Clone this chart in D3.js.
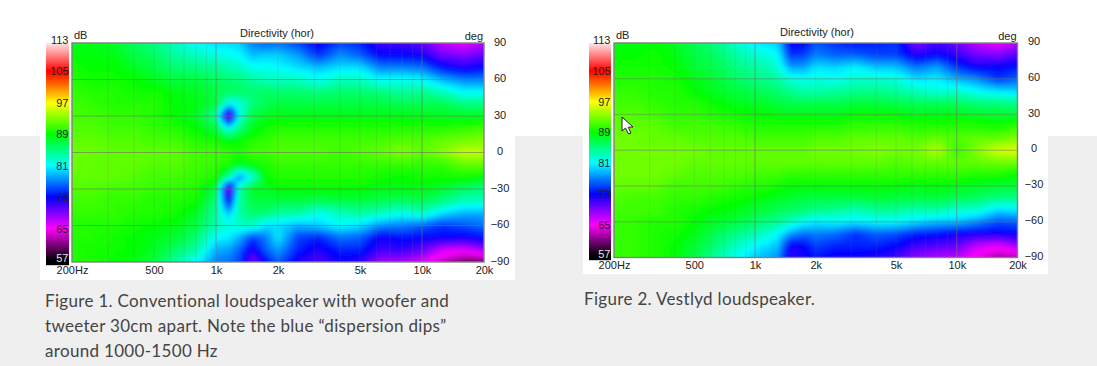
<!DOCTYPE html>
<html>
<head>
<meta charset="utf-8">
<script src="https://cdnjs.cloudflare.com/ajax/libs/d3/7.8.5/d3.min.js"></script>
<style>
html, body { margin: 0; padding: 0; background: #fff; overflow: hidden; }
svg { display: block; }
.tick text, .lbl { font-family: "Liberation Sans", Arial, sans-serif; font-size: 11px; fill: #222; }
.domain { display: none; }
.caption { font-family: "Lato", sans-serif; font-size: 17px; letter-spacing: 0.32px; fill: #444; }
</style>
</head>
<body>
<script>
// dB level -> colour stops of the measurement software's palette
const dbStops = [57, 65, 73, 81, 89, 97, 105, 113];
const dbColors = ["#000000", "#ff00ff", "#0000ff", "#00ffff", "#00ff00", "#ffff00", "#ff0000", "#ffffff"];
const dbTicks = [113, 105, 97, 89, 81, 73, 65, 57];

const angleTicks = [90, 60, 30, 0, -30, -60, -90];
const freqTicks = [200, 500, 1000, 2000, 5000, 10000, 20000];
const freqTickLabels = ["200Hz", "500", "1k", "2k", "5k", "10k", "20k"];
const gridMinor = [300, 400, 500, 600, 700, 800, 900, 2000, 3000, 4000, 5000, 6000, 7000, 8000, 9000];
const gridMajor = [1000, 10000];

const freqs = [200, 250, 315, 400, 500, 630, 800, 1000, 1150, 1300, 1500, 1750, 2000, 2500, 3150, 4000, 5000, 6300, 8000, 10000, 12500, 16000, 20000];
const angles = [90, 80, 70, 60, 50, 40, 30, 20, 10, 0, -10, -20, -30, -40, -50, -60, -70, -80, -90];

const conventional = [
  [88, 88.5, 88, 86, 85, 83, 81, 80, 80, 79.5, 77, 76, 76.5, 75, 72.5, 75, 74, 71, 71, 70, 67, 65.5, 67.5],
  [89, 88.5, 88.5, 87, 86, 84, 83, 82, 81.5, 81, 79, 79.5, 79.5, 78, 74.5, 77.5, 76, 73, 73, 72.5, 69.5, 69, 70],
  [89.5, 89, 89, 88, 87, 85.5, 85, 84.5, 83.5, 83, 81.5, 81.5, 81, 80, 79, 80, 80, 77, 77, 76.5, 73.5, 72, 73],
  [90, 89.5, 89.5, 89, 88, 87, 87, 86, 85.5, 85, 84, 83, 83, 83, 81.5, 83, 83, 81, 81.5, 81, 78.5, 77, 77],
  [90.5, 90, 90, 89.5, 89.5, 88.5, 88, 87, 86, 86, 85.5, 86, 85.5, 85.5, 85, 85.5, 85.5, 85, 84, 84.5, 83, 81, 81],
  [91, 90.5, 90, 90, 90, 89, 88.5, 87, 81, 82, 85, 86.5, 87, 87, 87, 87, 87, 87, 86.5, 86.5, 86.5, 85, 85],
  [91, 91, 90.5, 90.5, 90, 89, 88, 84.5, 68, 82, 87, 88, 88.5, 88.5, 88.5, 88.5, 88.5, 88.5, 88.5, 88.5, 88, 88, 88],
  [91.5, 91.5, 91, 91, 90.5, 90, 89, 87, 81, 85, 88, 89.5, 90, 90, 90, 90, 90, 90, 90, 90, 90, 90.5, 91],
  [92, 92, 91.5, 91.5, 91, 91, 90, 89.5, 88.5, 89, 90, 90.5, 91, 91, 91, 91, 91, 91, 91.5, 91.5, 92, 92.5, 93],
  [92.3, 92.3, 92, 92, 92, 92, 91, 91, 90.5, 90, 91, 91, 91.5, 91.5, 91.5, 91, 91.5, 92, 93, 92, 93, 95, 95],
  [92.3, 92, 92, 92, 91.5, 91.5, 91, 90.5, 90, 88, 89, 90, 90.5, 90.5, 90.5, 90.5, 90.5, 90.5, 90.5, 90.5, 90.5, 92, 92],
  [92, 92, 92, 91.5, 91, 91, 90.5, 90, 84, 77, 82, 89, 90, 90, 90, 90, 90, 89.5, 89, 89.5, 89.5, 89.5, 89],
  [91.5, 91.5, 91, 91, 90.5, 90.5, 90, 87, 68, 84, 88, 88, 89, 89, 89, 89, 89, 88.5, 88.5, 88.5, 87.5, 86, 85],
  [91, 91, 90.5, 90.5, 90, 90, 89.5, 85, 73, 84, 87, 87, 87, 87, 86.5, 87, 87, 86.5, 86, 86.5, 85, 83, 83],
  [90.5, 90.5, 90.5, 90, 90, 89.5, 88, 84, 79, 84, 85.5, 85.5, 84, 84, 81.5, 83, 84, 83, 81.5, 83, 80, 78.5, 78.5],
  [90, 90, 90, 89.5, 89, 88.5, 87, 83.5, 82, 82.5, 83, 80, 80, 78.5, 79.5, 81, 80, 77.5, 77, 76, 74.5, 75.5, 76.5],
  [90, 90, 89.5, 89, 88.5, 87.5, 85.5, 81, 80.5, 78.5, 75, 77, 80.5, 75, 74, 76.5, 76, 72.5, 73.5, 73, 73, 72.5, 73.5],
  [90, 89.5, 89.5, 89, 88, 86, 84, 78.5, 78, 76, 72, 76, 78, 74, 72, 74, 74, 71, 71.5, 70, 66.5, 66, 68],
  [90, 90, 89, 88.5, 87, 84, 81, 77, 76.5, 75, 69, 73, 76, 72, 70.5, 72.5, 71.5, 68, 67.5, 66, 63, 60, 60]
];

const vestlyd = [
  [88.5, 88.5, 89, 88, 86.5, 85, 82.5, 80.5, 80, 79.5, 72.5, 73, 75.5, 74.5, 73.5, 74, 74.5, 69, 71, 69.5, 67, 65.5, 67],
  [89, 89, 89.5, 88.5, 87, 86, 84, 82.5, 82, 81, 74.5, 75, 77, 76, 76, 75, 75, 72, 73, 71.5, 69.5, 69, 70.5],
  [89.5, 89.5, 89.5, 89, 87.5, 86.5, 85, 84, 83.5, 82, 78, 78, 80, 79.5, 80.5, 79, 79, 76.5, 78, 74.5, 72.5, 73, 73.5],
  [90, 90, 90, 89.5, 88.5, 87.5, 86, 85, 84.5, 84, 82, 81.5, 82, 81.5, 82.5, 82.5, 82, 80, 80.5, 78.5, 77.5, 74.5, 76],
  [90.5, 90.5, 90, 90, 89, 88, 87, 86.5, 86, 85.5, 84.5, 83.5, 83.5, 84, 84.5, 84.5, 84, 83, 82, 82.5, 81, 80, 79.5],
  [91, 91, 90.5, 90, 90, 89, 88, 88, 87.5, 87, 86.5, 86.5, 86.5, 86.5, 87, 87, 86.5, 86, 86, 86, 85, 85, 84.5],
  [91.5, 91.5, 91, 90.5, 90.5, 90, 89.5, 89, 89, 88.5, 88.5, 88.5, 88.5, 88.5, 89, 89, 89, 88.5, 88.5, 88.5, 88, 87.5, 87.5],
  [92, 92, 92, 91, 91, 91, 90.5, 90, 90, 90, 90, 90, 90, 90, 90.5, 90.5, 90.5, 90, 90, 90, 90, 89.5, 90.5],
  [92.5, 92.5, 92, 92, 91.5, 91.5, 91.5, 91, 91, 91, 91, 91, 91.5, 91.5, 92, 92, 92, 91.5, 92, 91.5, 92, 92, 93],
  [92.5, 92.5, 92.5, 92.5, 92.5, 92, 92, 92, 92, 92, 92, 92, 92.5, 92.5, 92.5, 93, 92.5, 92.5, 94.5, 90.5, 93, 95.5, 96],
  [92.5, 92.5, 92.5, 92.5, 92, 92, 92, 92, 92, 92, 92, 92, 92, 92, 92, 92, 91.5, 92, 92, 92, 92, 92.5, 92.5],
  [92.5, 92.5, 92.5, 92, 91.5, 91.5, 91.5, 91, 91, 91, 90.5, 90.5, 90.5, 90.5, 90.5, 90.5, 90.5, 90.5, 90.5, 90.5, 90, 90, 89],
  [92, 92, 92, 91, 91, 91, 90.5, 90, 90, 89.5, 89, 89, 89, 89, 89, 89, 89, 88.5, 89, 88.5, 88, 87.5, 87.5],
  [91.5, 91, 91, 90.5, 90.5, 90, 89.5, 89, 88.5, 88, 87.5, 87, 87, 87, 87, 87.5, 87, 87, 87, 86.5, 86, 85, 85],
  [91, 91, 91, 90, 89.5, 89, 88.5, 87.5, 87, 86.5, 86, 85.5, 85, 84.5, 83.5, 84.5, 84.5, 83.5, 84, 82.5, 82.5, 80, 80.5],
  [90.5, 90.5, 90, 90, 89, 88, 87, 86, 85, 84.5, 83, 81.5, 80.5, 81, 80.5, 81, 81, 80, 79, 79, 77.5, 75.5, 76],
  [90.5, 90.5, 90, 89.5, 88.5, 86.5, 85, 83.5, 82.5, 81, 78, 76.5, 77, 76.5, 74.5, 76, 75.5, 74, 73.5, 72.5, 72.5, 72.5, 73],
  [90.5, 90.5, 90, 89, 87.5, 85.5, 83, 81, 80, 79, 72.5, 73, 75, 74, 74, 74, 73, 71, 70.5, 70, 67, 66, 68],
  [90.5, 90.5, 90, 89, 87, 84, 81.5, 79.5, 78.5, 77.5, 71.5, 72.5, 73.5, 72.5, 72.5, 72, 71, 68.5, 67.5, 67, 64.5, 62, 62.5]
];

const chartTitle = "Directivity (hor)";
const captionOne = ["Figure 1. Conventional loudspeaker with woofer and", "tweeter 30cm apart. Note the blue \u201cdispersion dips\u201d", "around 1000-1500 Hz"];
const captionTwo = ["Figure 2. Vestlyd loudspeaker."];

const width = 1097, height = 366;
const color = d3.scaleLinear().domain(dbStops).range(dbColors).clamp(true);

const svg = d3.select("body").append("svg").attr("width", width).attr("height", height);
const defs = svg.append("defs");
defs.append("filter").attr("id", "soft")
    .attr("filterUnits", "userSpaceOnUse").attr("x", 0).attr("y", 0).attr("width", width).attr("height", height)
    .append("feGaussianBlur").attr("stdDeviation", 2);

// page background
svg.append("rect").attr("width", width).attr("height", height).attr("fill", "#fff");
svg.append("rect").attr("y", 136).attr("width", width).attr("height", height - 136).attr("fill", "#efefef");

const anglesAsc = angles.slice().reverse();

// value at (freq, angle), bilinear between grid points
function valueAt(rows, f, a) {
    const i = Math.max(0, Math.min(freqs.length - 2, d3.bisectRight(freqs, f) - 1));
    const k = Math.max(0, Math.min(anglesAsc.length - 2, d3.bisectRight(anglesAsc, a) - 1));
    const hi = rows[rows.length - 1 - k], lo = rows[rows.length - 2 - k];
    const tx = Math.max(0, Math.min(1, (Math.log(f) - Math.log(freqs[i])) / (Math.log(freqs[i + 1]) - Math.log(freqs[i]))));
    const ty = Math.max(0, Math.min(1, (a - anglesAsc[k]) / (anglesAsc[k + 1] - anglesAsc[k])));
    return (hi[i] * (1 - tx) + hi[i + 1] * tx) * (1 - ty) + (lo[i] * (1 - tx) + lo[i + 1] * tx) * ty;
}

function drawFigure(cfg, rows) {
    const x = d3.scaleLog().domain([200, 20000]).range([cfg.left, cfg.right]);
    const y = d3.scaleLinear().domain([90, -90]).range([cfg.top, cfg.bottom]);
    const barY = d3.scaleLinear().domain([113, 57]).range([cfg.bar113, cfg.bar57]);

    // white panel
    svg.append("rect").attr("x", cfg.panel[0]).attr("y", 0)
        .attr("width", cfg.panel[1] - cfg.panel[0]).attr("height", cfg.panel[2]).attr("fill", "#fff");

    // heat map: paint through the scales into a canvas, padded so the blur has no edge fade
    const pad = 8;
    const w = Math.round(cfg.right - cfg.left) + pad * 2, h = Math.round(cfg.bottom - cfg.top) + pad * 2;
    const canvas = document.createElement("canvas");
    canvas.width = w; canvas.height = h;
    const ctx = canvas.getContext("2d");
    const img = ctx.createImageData(w, h);
    for (let py = 0; py < h; py++) {
        const a = Math.max(-90, Math.min(90, y.invert(cfg.top - pad + py + 0.5)));
        for (let px = 0; px < w; px++) {
            const f = Math.max(200, Math.min(20000, x.invert(cfg.left - pad + px + 0.5)));
            const c = d3.rgb(color(valueAt(rows, f, a)));
            const o = (py * w + px) * 4;
            img.data[o] = c.r; img.data[o + 1] = c.g; img.data[o + 2] = c.b; img.data[o + 3] = 255;
        }
    }
    ctx.putImageData(img, 0, 0);

    const clipId = "clip" + cfg.id;
    defs.append("clipPath").attr("id", clipId).append("rect")
        .attr("x", cfg.left).attr("y", cfg.top).attr("width", cfg.right - cfg.left).attr("height", cfg.bottom - cfg.top);
    svg.append("g").attr("clip-path", "url(#" + clipId + ")")
        .append("image").attr("href", canvas.toDataURL())
        .attr("x", cfg.left - pad).attr("y", cfg.top - pad).attr("width", w).attr("height", h)
        .attr("filter", "url(#soft)");

    // grid
    const grid = svg.append("g").attr("fill", "none");
    grid.selectAll(".minor").data(gridMinor).join("line")
        .attr("x1", d => x(d)).attr("x2", d => x(d)).attr("y1", cfg.top).attr("y2", cfg.bottom)
        .attr("stroke", "#707070").attr("stroke-opacity", cfg.minorOpacity);
    grid.selectAll(".major").data(gridMajor).join("line")
        .attr("x1", d => x(d)).attr("x2", d => x(d)).attr("y1", cfg.top).attr("y2", cfg.bottom)
        .attr("stroke", "#707070").attr("stroke-opacity", 0.6);
    grid.selectAll(".horiz").data(angleTicks.slice(1, -1)).join("line")
        .attr("x1", cfg.left).attr("x2", cfg.right).attr("y1", d => y(d)).attr("y2", d => y(d))
        .attr("stroke", "#707070").attr("stroke-opacity", cfg.horizOpacity).attr("stroke-width", cfg.horizWidth);
    svg.append("rect").attr("x", cfg.left).attr("y", cfg.top)
        .attr("width", cfg.right - cfg.left).attr("height", cfg.bottom - cfg.top)
        .attr("fill", "none").attr("stroke", "#808080").attr("stroke-width", 1.4);

    // colour bar
    const barRows = d3.range(cfg.top, cfg.barBottom);
    svg.append("g").selectAll("rect").data(barRows).join("rect")
        .attr("x", cfg.barX).attr("y", d => d).attr("width", cfg.barW).attr("height", 1.2)
        .attr("fill", d => color(barY.invert(d + 0.5)));
    svg.append("g").attr("transform", "translate(" + (cfg.barX + cfg.barW - 0.5) + ",0)")
        .call(d3.axisLeft(barY).tickValues(dbTicks).tickSize(0).tickPadding(0))
        .call(g => g.selectAll("text")
            .style("fill", d => d === 57 ? "#e4e4e4" : "#222")
            .attr("y", d => d === 57 ? -2 : 0));

    // axes
    svg.append("g").attr("transform", "translate(0," + cfg.xLabelY + ")")
        .call(d3.axisBottom(x).tickValues(freqTicks).tickSize(0).tickPadding(0)
            .tickFormat((d, i) => freqTickLabels[i]));
    svg.append("g").attr("transform", "translate(" + cfg.yLabelX + "," + cfg.yLabelDy + ")")
        .call(d3.axisRight(y).tickValues(angleTicks).tickSize(0).tickPadding(0))
        .call(g => g.selectAll("text").attr("text-anchor", "middle"));

    svg.append("text").attr("class", "lbl").attr("x", cfg.titleX).attr("y", cfg.titleY)
        .attr("text-anchor", "middle").text(chartTitle);
    svg.append("text").attr("class", "lbl").attr("x", cfg.left + 2).attr("y", cfg.top - 4).text("dB");
    svg.append("text").attr("class", "lbl").attr("x", cfg.right - 1).attr("y", cfg.top - 3)
        .attr("text-anchor", "end").text("deg");

    // caption
    svg.append("g").selectAll("text").data(cfg.caption).join("text")
        .attr("class", "caption").attr("x", cfg.capX).attr("y", (d, i) => cfg.capY + i * 25).text(d => d);
}

drawFigure({
    id: 1, left: 72, right: 484, top: 43, bottom: 262,
    panel: [40, 515, 280], bar113: 40, bar57: 260, barX: 46, barW: 23, barBottom: 265,
    xLabelY: 266, yLabelX: 500, yLabelDy: -1.5, titleX: 277, titleY: 37,
    minorOpacity: 0.18, horizOpacity: 0.6, horizWidth: 1,
    caption: captionOne, capX: 45, capY: 307
}, conventional);

drawFigure({
    id: 2, left: 614, right: 1017.5, top: 43, bottom: 257.5,
    panel: [583, 1048, 274], bar113: 40, bar57: 255.5, barX: 589, barW: 22, barBottom: 260,
    xLabelY: 261, yLabelX: 1034, yLabelDy: -2, titleX: 817, titleY: 36,
    minorOpacity: 0.15, horizOpacity: 0.35, horizWidth: 1.5,
    caption: captionTwo, capX: 584, capY: 305
}, vestlyd);

// mouse pointer captured in the screenshot
svg.append("path")
    .attr("d", "M622 117 L622 131 L625.5 128 L628.5 134 L631 133 L628.2 127.2 L633 127 Z")
    .attr("fill", "#fff").attr("stroke", "#222").attr("stroke-width", 1);
</script>
</body>
</html>
